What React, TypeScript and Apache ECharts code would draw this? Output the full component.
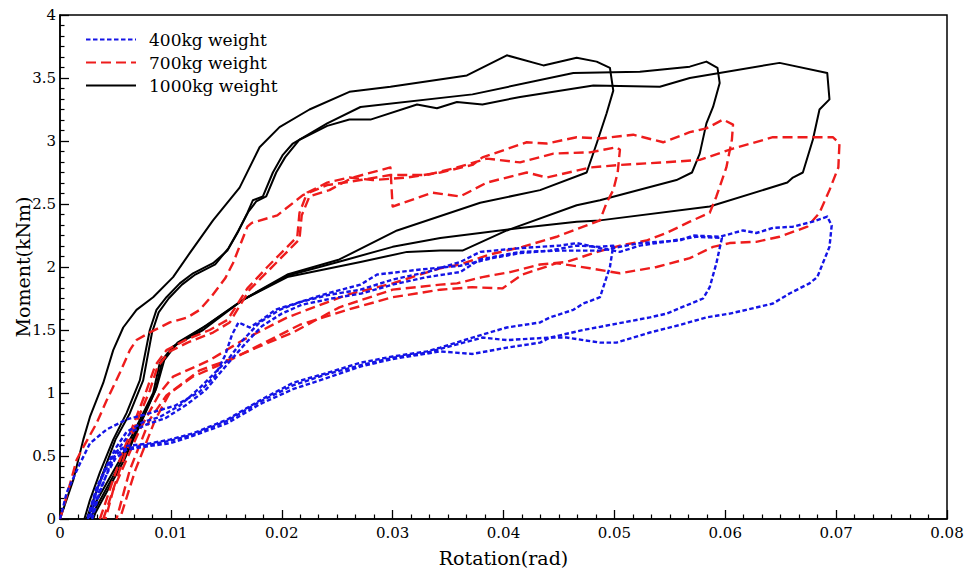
import React, { useEffect, useRef } from "react";
import * as echarts from "echarts";

// Legend / series names
const names = ["400kg weight", "700kg weight", "1000kg weight"];

// Axis ranges and ticks
const xRange = [0, 0.08];
const xStep = 0.01;
const yRange = [0, 4];
const yStep = 0.5;

// ---------- 1000kg weight (three cycles: [rotation, moment]) ----------
const w1000_c1 = [
  [0, 0], [0.0012, 0.31], [0.0021, 0.63], [0.0027, 0.81], [0.0039, 1.08], [0.0048, 1.34], [0.0057, 1.52],
  [0.0069, 1.66], [0.0084, 1.76], [0.0102, 1.92], [0.0117, 2.11], [0.0138, 2.37], [0.0162, 2.63], [0.018, 2.95],
  [0.0198, 3.11], [0.0225, 3.25], [0.0261, 3.39], [0.0298, 3.43], [0.0367, 3.52], [0.0403, 3.68], [0.0436, 3.6],
  [0.0466, 3.66], [0.0484, 3.63], [0.0496, 3.58],
  [0.0499, 3.4], [0.0493, 3.22], [0.0484, 2.98], [0.0475, 2.75],
  [0.0433, 2.61], [0.0379, 2.51], [0.0304, 2.29], [0.0252, 2.06], [0.0205, 1.94], [0.0165, 1.74], [0.0129, 1.5],
  [0.0102, 1.37], [0.009, 1.24], [0.0084, 1.0], [0.0075, 0.84], [0.0054, 0.47], [0.0027, 0.05], [0.0024, 0],
];
const w1000_c2 = [
  [0.0022, 0], [0.0027, 0.15], [0.0036, 0.37], [0.0048, 0.63], [0.006, 0.84], [0.0072, 1.1], [0.0081, 1.5],
  [0.0087, 1.66], [0.0096, 1.76], [0.0108, 1.87], [0.012, 1.95], [0.0138, 2.03], [0.0151, 2.13], [0.016, 2.27],
  [0.0169, 2.43], [0.0174, 2.53], [0.0183, 2.56], [0.0192, 2.75], [0.0201, 2.89], [0.021, 2.98], [0.0241, 3.14],
  [0.0271, 3.27], [0.0372, 3.37], [0.0463, 3.54], [0.0523, 3.55], [0.0568, 3.59], [0.0583, 3.63], [0.0593, 3.58],
  [0.0595, 3.46], [0.0589, 3.27], [0.0583, 3.14], [0.0577, 2.9], [0.057, 2.75], [0.0556, 2.69],
  [0.0487, 2.53], [0.0466, 2.49], [0.0403, 2.29], [0.0363, 2.13], [0.0343, 2.13], [0.0313, 2.12], [0.0271, 2.04],
  [0.0205, 1.92], [0.0165, 1.74], [0.0129, 1.52], [0.0104, 1.38], [0.0092, 1.25], [0.0086, 1.02], [0.0077, 0.85],
  [0.0056, 0.47], [0.003, 0.05], [0.0027, 0],
];
const w1000_c3 = [
  [0.0024, 0], [0.003, 0.15], [0.0039, 0.37], [0.005, 0.63], [0.0063, 0.84], [0.0075, 1.1], [0.0083, 1.48],
  [0.0089, 1.64], [0.0098, 1.75], [0.011, 1.86], [0.0122, 1.94], [0.014, 2.02], [0.0152, 2.15], [0.0161, 2.29],
  [0.017, 2.44], [0.0177, 2.52], [0.0186, 2.56], [0.0195, 2.75], [0.0203, 2.87], [0.0216, 3.01], [0.0241, 3.12],
  [0.0261, 3.17], [0.028, 3.17], [0.0322, 3.29], [0.034, 3.26], [0.0358, 3.31], [0.0381, 3.29], [0.0415, 3.35],
  [0.0481, 3.44], [0.0541, 3.43], [0.0568, 3.5], [0.0649, 3.62], [0.0692, 3.54],
  [0.0694, 3.33], [0.0685, 3.25], [0.0679, 3.01], [0.067, 2.75], [0.0661, 2.71], [0.0656, 2.67],
  [0.0586, 2.48], [0.0487, 2.37], [0.0466, 2.36], [0.0415, 2.31], [0.0343, 2.23], [0.03, 2.16], [0.0259, 2.06],
  [0.0205, 1.93], [0.0167, 1.75], [0.0131, 1.53], [0.0106, 1.4], [0.0094, 1.26], [0.0087, 1.04], [0.0078, 0.86],
  [0.0058, 0.47], [0.0032, 0.05], [0.003, 0],
];

// ---------- 700kg weight ----------
const w700_c1 = [
  [0, 0], [0.0005, 0.15], [0.0015, 0.47], [0.0021, 0.57], [0.0033, 0.76], [0.0042, 0.94], [0.0054, 1.16],
  [0.0063, 1.34], [0.0069, 1.42], [0.0081, 1.48], [0.0099, 1.56], [0.0115, 1.6], [0.0126, 1.66], [0.0137, 1.77],
  [0.0149, 1.91], [0.0156, 2.03], [0.0169, 2.32], [0.0173, 2.35], [0.0196, 2.41], [0.0219, 2.57], [0.0241, 2.65],
  [0.0271, 2.69], [0.0298, 2.73], [0.0331, 2.73], [0.0358, 2.79], [0.0385, 2.86], [0.0415, 2.83], [0.0445, 2.9],
  [0.0478, 2.91], [0.0502, 2.95], [0.0505, 2.93],
  [0.0503, 2.75], [0.0499, 2.61], [0.0493, 2.51], [0.0487, 2.37],
  [0.0472, 2.32], [0.0448, 2.24], [0.0417, 2.16], [0.0388, 2.1], [0.0361, 2.02], [0.0343, 1.99], [0.03, 1.87],
  [0.0259, 1.78], [0.0241, 1.72], [0.0205, 1.6], [0.0165, 1.42], [0.0135, 1.26], [0.0102, 1.13], [0.009, 1.0],
  [0.0072, 0.71], [0.006, 0.47], [0.0048, 0.23], [0.0041, 0],
];
const w700_c2 = [
  [0.0036, 0], [0.0054, 0.47], [0.0068, 0.79], [0.0078, 1.02], [0.0086, 1.22], [0.0096, 1.34], [0.0113, 1.42],
  [0.0135, 1.5], [0.0151, 1.58], [0.0169, 1.83], [0.0187, 2.0], [0.0205, 2.16], [0.0214, 2.24], [0.0216, 2.43],
  [0.0223, 2.59], [0.0241, 2.67], [0.0261, 2.71], [0.0282, 2.69], [0.0313, 2.71], [0.0343, 2.75], [0.0372, 2.81],
  [0.0381, 2.87], [0.0421, 2.99], [0.0439, 2.98], [0.0466, 3.03], [0.0487, 3.02], [0.0517, 3.05], [0.0544, 2.99],
  [0.0568, 3.07], [0.0583, 3.1], [0.0598, 3.17], [0.0607, 3.13],
  [0.0606, 3.01], [0.0601, 2.79], [0.0592, 2.56], [0.0586, 2.43],
  [0.0568, 2.36], [0.0547, 2.27], [0.0529, 2.21], [0.0505, 2.17], [0.0481, 2.11], [0.0457, 2.04], [0.0433, 2.02],
  [0.0406, 1.96], [0.0381, 1.92], [0.0358, 1.87], [0.0343, 1.86], [0.03, 1.82], [0.0252, 1.68], [0.021, 1.48],
  [0.018, 1.37], [0.0151, 1.26], [0.0126, 1.18], [0.0096, 0.98], [0.0081, 0.79], [0.0063, 0.39], [0.0051, 0],
];
const w700_c3 = [
  [0.0039, 0], [0.0057, 0.47], [0.007, 0.79], [0.0081, 1.02], [0.0088, 1.21], [0.0099, 1.33], [0.0115, 1.4],
  [0.0138, 1.48], [0.0153, 1.56], [0.0171, 1.82], [0.0189, 1.98], [0.0207, 2.14], [0.0216, 2.22], [0.0218, 2.41],
  [0.0225, 2.56], [0.0243, 2.61], [0.0264, 2.71], [0.0298, 2.79], [0.03, 2.48], [0.0336, 2.59], [0.0361, 2.56],
  [0.0385, 2.67], [0.0421, 2.75], [0.0439, 2.71], [0.0478, 2.79], [0.0505, 2.81], [0.0544, 2.83], [0.0577, 2.85],
  [0.0607, 2.94], [0.0643, 3.03], [0.0697, 3.03], [0.0703, 2.98],
  [0.0702, 2.79], [0.0694, 2.61], [0.0685, 2.43], [0.0674, 2.32],
  [0.0649, 2.24], [0.0628, 2.2], [0.0604, 2.19], [0.0589, 2.16], [0.0568, 2.07], [0.0538, 2.0], [0.0505, 1.95],
  [0.0478, 1.99], [0.0448, 2.03], [0.0417, 1.94], [0.0399, 1.83], [0.0372, 1.84], [0.0343, 1.82], [0.03, 1.76],
  [0.0259, 1.66], [0.0216, 1.54], [0.018, 1.38], [0.0151, 1.25], [0.012, 1.13], [0.0099, 1.0], [0.0086, 0.79],
  [0.0068, 0.39], [0.0054, 0],
];

// ---------- 400kg weight ----------
const w400_c1 = [
  [0, 0], [0.0003, 0.1], [0.0006, 0.21], [0.0018, 0.44], [0.0027, 0.6], [0.0042, 0.71], [0.006, 0.79],
  [0.0081, 0.84], [0.0104, 0.9], [0.0126, 1.01], [0.014, 1.14], [0.0149, 1.3], [0.0155, 1.46], [0.0161, 1.56],
  [0.0171, 1.52], [0.0182, 1.58], [0.0194, 1.66], [0.0212, 1.71], [0.0241, 1.79], [0.0271, 1.86], [0.0286, 1.94],
  [0.0325, 1.98], [0.0361, 2.01], [0.039, 2.07], [0.0415, 2.11], [0.0442, 2.13], [0.0466, 2.17], [0.0487, 2.16],
  [0.0499, 2.17],
  [0.0496, 2.0], [0.049, 1.84], [0.0487, 1.76],
  [0.0472, 1.71], [0.0463, 1.66], [0.0442, 1.6], [0.0433, 1.56], [0.0403, 1.52], [0.0372, 1.44], [0.0343, 1.36],
  [0.0331, 1.33], [0.03, 1.29], [0.0271, 1.24], [0.0241, 1.16], [0.021, 1.08], [0.018, 0.94], [0.0151, 0.79],
  [0.012, 0.68], [0.0099, 0.63], [0.0081, 0.6], [0.006, 0.58], [0.005, 0.53], [0.0041, 0.4], [0.0033, 0.25],
  [0.0027, 0.07], [0.0025, 0],
];
const w400_c2 = [
  [0.0025, 0], [0.0032, 0.19], [0.0041, 0.4], [0.005, 0.56], [0.006, 0.69], [0.0075, 0.77], [0.009, 0.81],
  [0.0108, 0.9], [0.0126, 1.04], [0.0151, 1.26], [0.0165, 1.42], [0.018, 1.56], [0.0198, 1.66], [0.0216, 1.72],
  [0.0243, 1.78], [0.0271, 1.82], [0.03, 1.9], [0.0331, 1.96], [0.0361, 2.04], [0.0379, 2.12], [0.0415, 2.15],
  [0.0451, 2.17], [0.0466, 2.19], [0.0487, 2.15], [0.0505, 2.12], [0.0523, 2.17], [0.0553, 2.21], [0.0574, 2.24],
  [0.0597, 2.23],
  [0.0592, 2.03], [0.0586, 1.84], [0.058, 1.75],
  [0.0547, 1.63], [0.0532, 1.6], [0.0472, 1.5], [0.0442, 1.44], [0.0403, 1.42], [0.0381, 1.44], [0.0343, 1.35],
  [0.0331, 1.32], [0.03, 1.28], [0.0271, 1.22], [0.0241, 1.15], [0.021, 1.06], [0.018, 0.93], [0.0151, 0.78],
  [0.012, 0.67], [0.0099, 0.62], [0.0081, 0.59], [0.006, 0.56], [0.005, 0.51], [0.0041, 0.39], [0.0033, 0.23],
  [0.0029, 0.07], [0.0027, 0],
];
const w400_c3 = [
  [0.0029, 0], [0.0035, 0.19], [0.0044, 0.4], [0.0053, 0.56], [0.0064, 0.69], [0.0078, 0.75], [0.0095, 0.8],
  [0.0113, 0.9], [0.0131, 1.02], [0.0153, 1.25], [0.0168, 1.4], [0.0182, 1.53], [0.02, 1.63], [0.0218, 1.7],
  [0.0245, 1.75], [0.0272, 1.79], [0.03, 1.86], [0.0331, 1.92], [0.0361, 1.96], [0.0379, 2.06], [0.0415, 2.12],
  [0.0451, 2.13], [0.0487, 2.13], [0.0523, 2.19], [0.0559, 2.21], [0.0571, 2.25], [0.0595, 2.24], [0.0616, 2.29],
  [0.0628, 2.27], [0.0643, 2.31], [0.0661, 2.32], [0.0679, 2.36], [0.0692, 2.4],
  [0.0696, 2.33], [0.0694, 2.16], [0.0688, 2.03], [0.0683, 1.92], [0.0676, 1.87],
  [0.0658, 1.79], [0.0643, 1.71], [0.0619, 1.66], [0.0604, 1.63], [0.0583, 1.6], [0.0559, 1.54], [0.0532, 1.48],
  [0.0502, 1.4], [0.0487, 1.4], [0.0457, 1.44], [0.0442, 1.44], [0.0433, 1.4], [0.0403, 1.36], [0.0372, 1.31],
  [0.0343, 1.33], [0.03, 1.27], [0.0271, 1.21], [0.0241, 1.12], [0.021, 1.03], [0.018, 0.91], [0.0151, 0.76],
  [0.012, 0.66], [0.0099, 0.6], [0.0081, 0.58], [0.006, 0.55], [0.005, 0.48], [0.0043, 0.37], [0.0035, 0.21],
  [0.003, 0.07], [0.0029, 0],
];

const FONT = "DejaVu Serif";
const BLUE = "#1414e6";
const RED = "#ee1c1c";
const BLACK = "#000000";

function makeSeries(name: string, data: number[][], color: string, width: number, dash: any, z: number) {
  return {
    name,
    type: "line",
    data,
    symbol: "none",
    showSymbol: false,
    smooth: false,
    silent: true,
    z,
    lineStyle: { color, width, type: dash, join: "round", cap: "butt" },
    itemStyle: { color },
  };
}

export default function App() {
  const ref = useRef<HTMLDivElement>(null);
  useEffect(() => {
    document.body.style.margin = "0";
    const chart = echarts.init(ref.current!, null, { renderer: "svg" });
    const fmtX = (v: number) => (v === 0 ? "0" : String(+v.toFixed(2)));
    const fmtY = (v: number) => String(+v.toFixed(1));
    const series = [
      makeSeries(names[2], w1000_c1, BLACK, 2, "solid", 2),
      makeSeries(names[2], w1000_c2, BLACK, 2, "solid", 2),
      makeSeries(names[2], w1000_c3, BLACK, 2, "solid", 2),
      makeSeries(names[1], w700_c1, RED, 2.4, [10, 5], 3),
      makeSeries(names[1], w700_c2, RED, 2.4, [10, 5], 3),
      makeSeries(names[1], w700_c3, RED, 2.4, [10, 5], 3),
      makeSeries(names[0], w400_c1, BLUE, 2.4, [4.5, 2.5], 4),
      makeSeries(names[0], w400_c2, BLUE, 2.4, [4.5, 2.5], 4),
      makeSeries(names[0], w400_c3, BLUE, 2.4, [4.5, 2.5], 4),
    ];
    chart.setOption({
      animation: false,
      backgroundColor: "#ffffff",
      grid: {
        left: 60,
        right: 17,
        top: 15,
        bottom: 52,
        show: true,
        borderColor: "#000",
        borderWidth: 1.5,
        backgroundColor: "transparent",
        outerBoundsMode: "none",
        containLabel: false,
      },
      legend: {
        data: names,
        orient: "vertical",
        left: 80,
        top: 25,
        itemWidth: 50,
        itemHeight: 14,
        itemGap: 4,
        selectedMode: false,
        itemStyle: { opacity: 0, borderWidth: 0 },
        textStyle: { fontFamily: FONT, fontSize: 17, color: "#000", padding: [0, 0, 0, 8], lineHeight: 19 },
      },
      xAxis: {
        type: "value",
        min: xRange[0],
        max: xRange[1],
        interval: xStep,
        name: "Rotation(rad)",
        nameLocation: "middle",
        nameGap: 29,
        nameMoveOverlap: false,
        nameTextStyle: { fontFamily: FONT, fontSize: 19, color: "#000" },
        axisLine: { show: true, onZero: false, lineStyle: { color: "#000", width: 1.5 } },
        axisTick: { show: true, inside: true, length: 9, lineStyle: { color: "#000", width: 1.3 } },
        minorTick: { show: true, splitNumber: 6, length: 4.5, lineStyle: { color: "#000", width: 1.2 } },
        splitLine: { show: false },
        axisLabel: { fontFamily: FONT, fontSize: 15, color: "#000", margin: 6, formatter: fmtX },
      },
      yAxis: {
        type: "value",
        min: yRange[0],
        max: yRange[1],
        interval: yStep,
        name: "Moment(kNm)",
        nameLocation: "middle",
        nameGap: 28,
        nameMoveOverlap: false,
        nameRotate: 90,
        nameTextStyle: { fontFamily: FONT, fontSize: 19, color: "#000" },
        axisLine: { show: true, onZero: false, lineStyle: { color: "#000", width: 1.5 } },
        axisTick: { show: true, inside: true, length: 9, lineStyle: { color: "#000", width: 1.3 } },
        minorTick: { show: true, splitNumber: 6, length: 4.5, lineStyle: { color: "#000", width: 1.2 } },
        splitLine: { show: false },
        axisLabel: { fontFamily: FONT, fontSize: 15, color: "#000", margin: 4, formatter: fmtY },
      },
      series,
    });
    return () => chart.dispose();
  }, []);
  return <div ref={ref} style={{ width: 964, height: 571 }} />;
}
